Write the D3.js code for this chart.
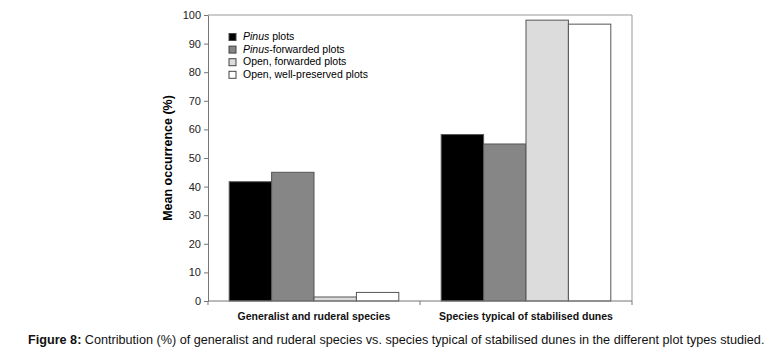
<!DOCTYPE html>
<html>
<head>
<meta charset="utf-8">
<title>Figure 8</title>
<script src="https://d3js.org/d3.v7.min.js"></script>
<style>
  body { margin: 0; background: #fff; }
  svg { display: block; font-family: 'Liberation Sans', Arial, sans-serif; }
  .axis text { font-size: 11px; fill: #222; }
  .axis path, .axis line { stroke: #777; }
</style>
</head>
<body>
<svg id="chart" width="767" height="353"></svg>
<script>
const categories = ['Generalist and ruderal species', 'Species typical of stabilised dunes'];
const seriesNames = ['Pinus plots', 'Pinus-forwarded plots', 'Open, forwarded plots', 'Open, well-preserved plots'];
const pinus = [41.7, 58.2];
const pinusForwarded = [45.0, 54.9];
const openForwarded = [1.4, 98.2];
const openPreserved = [3.0, 96.8];
const yTicks = [0, 10, 20, 30, 40, 50, 60, 70, 80, 90, 100];
const fills = ['#000000', '#868686', '#dcdcdc', '#ffffff'];

const series = [pinus, pinusForwarded, openForwarded, openPreserved];

const svg = d3.select('#chart');
const margin = {top: 15, right: 135, bottom: 52, left: 208};
const width = 767 - margin.left - margin.right;
const height = 353 - margin.top - margin.bottom;

const g = svg.append('g')
  .attr('transform', 'translate(' + margin.left + ',' + margin.top + ')');

const x0 = d3.scaleBand().domain(categories).range([0, width]).paddingInner(0).paddingOuter(0);
const x1 = d3.scaleBand().domain(d3.range(seriesNames.length))
  .range([0, x0.bandwidth()]).paddingOuter(0.5).paddingInner(0);
const y = d3.scaleLinear().domain([0, 100]).range([height, 0]);

// frame (top & right)
g.append('path')
  .attr('d', 'M0,0H' + width + 'V' + height)
  .attr('fill', 'none')
  .attr('stroke', '#999');

// bars
categories.forEach(function(cat, ci) {
  const grp = g.append('g').attr('transform', 'translate(' + x0(cat) + ',0)');
  series.forEach(function(vals, si) {
    grp.append('rect')
      .attr('x', x1(si))
      .attr('y', y(vals[ci]))
      .attr('width', x1.bandwidth())
      .attr('height', height - y(vals[ci]))
      .attr('fill', fills[si])
      .attr('stroke', '#555')
      .attr('stroke-width', 1);
  });
});

// y axis
g.append('g')
  .attr('class', 'axis')
  .call(d3.axisLeft(y).tickValues(yTicks).tickSize(4).tickSizeOuter(0).tickPadding(3));

// x axis with ticks at category boundaries
const xAxis = g.append('g')
  .attr('class', 'axis')
  .attr('transform', 'translate(0,' + height + ')');
xAxis.append('path').attr('d', 'M0,0H' + width).attr('stroke', '#777');
xAxis.selectAll('line.bound')
  .data([0, x0.bandwidth(), width])
  .join('line')
  .attr('x1', d => d).attr('x2', d => d)
  .attr('y1', 0).attr('y2', 4)
  .attr('stroke', '#777');
xAxis.selectAll('text.cat')
  .data(categories)
  .join('text')
  .attr('x', d => x0(d) + x0.bandwidth() / 2)
  .attr('y', 19)
  .attr('text-anchor', 'middle')
  .style('font-size', '10.5px')
  .style('font-weight', 'bold')
  .style('fill', '#111')
  .text(d => d);

// y title
g.append('text')
  .attr('transform', 'translate(-36,' + (height / 2) + ') rotate(-90)')
  .attr('text-anchor', 'middle')
  .style('font-size', '12.5px')
  .style('font-weight', 'bold')
  .text('Mean occurrence (%)');

// legend
const legend = g.append('g').attr('transform', 'translate(21,25)');
seriesNames.forEach(function(name, i) {
  const row = legend.append('g').attr('transform', 'translate(0,' + (i * 12.6) + ')');
  row.append('rect')
    .attr('x', 0).attr('y', -6.5)
    .attr('width', 7).attr('height', 7)
    .attr('fill', fills[i])
    .attr('stroke', '#444');
  const t = row.append('text')
    .attr('x', 14).attr('y', 0)
    .style('font-size', '10.5px')
    .style('fill', '#000');
  if (name.startsWith('Pinus')) {
    t.append('tspan').style('font-style', 'italic').text('Pinus');
    t.append('tspan').text(name.slice(5));
  } else {
    t.text(name);
  }
});

// caption (condensed to fit the figure width)
const capG = svg.append('g');
const cap = capG.append('text')
  .attr('x', 0).attr('y', 0)
  .style('font-size', '13px')
  .style('fill', '#111');
cap.append('tspan').style('font-weight', 'bold').text('Figure 8:');
cap.append('tspan').text(' Contribution (%) of generalist and ruderal species vs. species typical of stabilised dunes in the different plot types studied.');
const capW = cap.node().getComputedTextLength();
capG.attr('transform', 'translate(28,344) scale(' + (737 / capW) + ',1)');
</script>
</body>
</html>
